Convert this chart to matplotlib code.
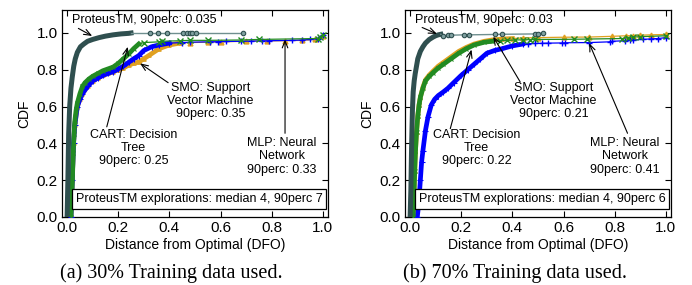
import matplotlib
matplotlib.use('Agg')
from matplotlib import pyplot as plt

plt.rcParams['font.family'] = ['Liberation Sans', 'DejaVu Sans']

# ---------------- (a) 30% training data ----------------
prot30_x = [0.0, 0.003, 0.006, 0.01, 0.015, 0.02, 0.026, 0.032, 0.04, 0.052, 0.065, 0.08, 0.1, 0.125, 0.15, 0.18, 0.21, 0.24, 0.25]
prot30_y = [0.0, 0.2, 0.45, 0.6, 0.7, 0.76, 0.82, 0.86, 0.895, 0.925, 0.94, 0.955, 0.965, 0.975, 0.983, 0.99, 0.995, 0.998, 1.0]
prot30_tx = [0.324, 0.355, 0.39, 0.453, 0.469, 0.48, 0.49, 0.504, 0.6875]
prot30_ty = [1.0, 1.0, 1.0, 1.0, 1.0, 1.0, 1.0, 1.0, 1.0]

cart30_x = [0.015, 0.018, 0.021, 0.024, 0.027, 0.03, 0.035, 0.04, 0.05, 0.06, 0.07, 0.085, 0.1, 0.12, 0.14, 0.16, 0.18, 0.2, 0.22, 0.24, 0.26, 0.28]
cart30_y = [0.0, 0.1, 0.22, 0.35, 0.45, 0.52, 0.58, 0.62, 0.67, 0.71, 0.73, 0.75, 0.765, 0.78, 0.795, 0.805, 0.815, 0.835, 0.86, 0.885, 0.915, 0.94]
cart30_tx = [0.3, 0.36, 0.37, 0.44, 0.48, 0.55, 0.68, 0.75, 0.98, 0.99, 1.0]
cart30_ty = [0.948, 0.952, 0.955, 0.958, 0.96, 0.96, 0.962, 0.965, 0.97, 0.98, 0.99]

mlp30_x = [0.015, 0.02, 0.025, 0.03, 0.04, 0.05, 0.06, 0.08, 0.1, 0.12, 0.14, 0.16, 0.18, 0.2, 0.22, 0.24, 0.26, 0.28, 0.3, 0.33, 0.36, 0.4]
mlp30_y = [0.0, 0.2, 0.4, 0.5, 0.6, 0.64, 0.67, 0.71, 0.74, 0.755, 0.77, 0.78, 0.79, 0.805, 0.82, 0.84, 0.86, 0.877, 0.905, 0.925, 0.935, 0.945]
mlp30_tx = [0.45, 0.48, 0.56, 0.59, 0.62, 0.68, 0.72, 0.76, 0.79, 0.88, 0.92, 0.95, 0.98, 1.0]
mlp30_ty = [0.948, 0.95, 0.952, 0.953, 0.954, 0.955, 0.956, 0.957, 0.958, 0.96, 0.962, 0.965, 0.97, 0.99]

smo30_x = [0.015, 0.02, 0.025, 0.03, 0.04, 0.05, 0.06, 0.08, 0.1, 0.12, 0.14, 0.16, 0.18, 0.2, 0.22, 0.24, 0.26, 0.28, 0.3, 0.32, 0.36, 0.4, 0.44]
smo30_y = [0.0, 0.2, 0.4, 0.5, 0.6, 0.64, 0.67, 0.71, 0.74, 0.755, 0.77, 0.78, 0.79, 0.8, 0.81, 0.825, 0.835, 0.842, 0.86, 0.878, 0.915, 0.935, 0.945]
smo30_tx = [0.48, 0.55, 0.6, 0.7, 0.78, 0.85, 0.92, 0.97, 1.0]
smo30_ty = [0.948, 0.95, 0.952, 0.955, 0.957, 0.958, 0.96, 0.965, 0.985]

# ---------------- (b) 70% training data ----------------
prot70_x = [0.0, 0.003, 0.006, 0.009, 0.012, 0.016, 0.02, 0.025, 0.03, 0.04, 0.05, 0.06, 0.075, 0.09, 0.1, 0.11, 0.12]
prot70_y = [0.0, 0.15, 0.4, 0.58, 0.68, 0.74, 0.78, 0.82, 0.86, 0.9, 0.925, 0.945, 0.965, 0.978, 0.985, 0.99, 0.993]
prot70_tx = [0.13, 0.15, 0.16, 0.21, 0.23, 0.33, 0.36, 0.49, 0.5, 0.52]
prot70_ty = [0.985, 0.987, 0.988, 0.99, 0.99, 0.992, 0.993, 0.995, 0.997, 1.0]

cart70_x = [0.012, 0.015, 0.018, 0.021, 0.025, 0.03, 0.035, 0.04, 0.05, 0.06, 0.075, 0.09, 0.11, 0.13, 0.16, 0.19, 0.22, 0.25, 0.29, 0.32]
cart70_y = [0.0, 0.12, 0.25, 0.36, 0.46, 0.55, 0.61, 0.65, 0.7, 0.74, 0.765, 0.785, 0.81, 0.83, 0.86, 0.89, 0.915, 0.935, 0.95, 0.955]
cart70_tx = [0.35, 0.38, 0.41, 0.44, 0.47, 0.49, 0.64, 0.69, 0.83, 0.85, 0.87, 0.9, 1.0]
cart70_ty = [0.958, 0.96, 0.962, 0.963, 0.964, 0.965, 0.966, 0.967, 0.97, 0.975, 0.978, 0.98, 0.985]

smo70_x = [0.012, 0.015, 0.018, 0.021, 0.025, 0.03, 0.035, 0.04, 0.05, 0.06, 0.075, 0.09, 0.11, 0.13, 0.16, 0.19, 0.22, 0.25, 0.29, 0.32, 0.36, 0.4]
smo70_y = [0.0, 0.12, 0.25, 0.36, 0.46, 0.55, 0.61, 0.65, 0.705, 0.745, 0.772, 0.793, 0.82, 0.84, 0.87, 0.9, 0.922, 0.94, 0.955, 0.962, 0.967, 0.97]
smo70_tx = [0.44, 0.5, 0.6, 0.7, 0.79, 0.845, 0.87, 0.9, 0.94, 1.0]
smo70_ty = [0.973, 0.975, 0.977, 0.978, 0.982, 0.985, 0.986, 0.988, 0.99, 0.992]

mlp70_x = [0.028, 0.032, 0.036, 0.04, 0.045, 0.05, 0.06, 0.07, 0.083, 0.096, 0.11, 0.13, 0.148, 0.17, 0.2, 0.225, 0.25, 0.275, 0.3, 0.33, 0.36, 0.4, 0.44]
mlp70_y = [0.0, 0.05, 0.12, 0.2, 0.3, 0.36, 0.47, 0.545, 0.61, 0.64, 0.66, 0.68, 0.7, 0.73, 0.77, 0.8, 0.83, 0.86, 0.89, 0.905, 0.915, 0.93, 0.94]
mlp70_tx = [0.46, 0.49, 0.515, 0.54, 0.595, 0.607, 0.7, 0.78, 0.79, 0.84, 0.86, 0.87, 0.91, 0.94, 0.97, 1.0]
mlp70_ty = [0.942, 0.943, 0.944, 0.945, 0.946, 0.947, 0.948, 0.952, 0.955, 0.958, 0.96, 0.962, 0.965, 0.968, 0.97, 0.975]

explor_a = "ProteusTM explorations: median 4, 90perc 7"
explor_b = "ProteusTM explorations: median 4, 90perc 6"
captions = ["(a) 30% Training data used.", "(b) 70% Training data used."]

C_PROT = '#2f4f4f'
C_CART = '#228b22'
C_SMO = '#e0a020'
C_MLP = '#0000ff'


def curve(ax, bx, by, tx, ty, color, marker, ms, z):
    # dense body of the CDF looks like a thick band of markers
    ax.plot(bx, by, color=color, lw=3.4, solid_joinstyle='round',
            marker=marker, ms=ms - 1, mew=0.8, zorder=z)
    ax.plot(bx[-1:] + tx, by[-1:] + ty, color=color, lw=0.9, marker=marker,
            ms=ms, mew=1.0, markevery=list(range(1, len(tx) + 1)), zorder=z)


def arrow(ax, tail, tip):
    ax.annotate('', xy=tip, xytext=tail,
                arrowprops=dict(arrowstyle='->,head_length=0.5,head_width=0.2',
                                lw=0.8, color='black', shrinkA=0, shrinkB=0),
                zorder=10)


def panel(ax, prot, cart, smo, mlp, labels, arrows, boxtext):
    curve(ax, *smo, C_SMO, '^', 3.5, 2)
    curve(ax, *mlp, C_MLP, '+', 5, 3)
    curve(ax, *cart, C_CART, 'x', 4, 4)
    ax.plot(prot[0], prot[1], color=C_PROT, lw=3.6, solid_joinstyle='round',
            zorder=5)
    ax.plot(prot[0][-1:] + prot[2], prot[1][-1:] + prot[3], color='#6f8f8f',
            lw=1.0, marker='o', ms=3.2, mfc='#7f9f9f', mec=C_PROT, mew=0.8,
            markevery=list(range(1, len(prot[2]) + 1)), zorder=5)

    for (txt, x, y) in labels:
        ax.text(x, y, txt, ha='center', va='center', fontsize=9,
                multialignment='center', linespacing=1.15, zorder=11)
    for tail, tip in arrows:
        arrow(ax, tail, tip)
    ax.text(0.516, 0.098, boxtext, ha='center', va='center', fontsize=9,
            bbox=dict(boxstyle='square,pad=0.3', fc='white', ec='black', lw=0.9),
            zorder=12)

    ax.set_xlim(-0.02, 1.02)
    ax.set_ylim(0, 1.125)
    ax.set_xticks([0, 0.2, 0.4, 0.6, 0.8, 1.0])
    ax.set_yticks([0, 0.2, 0.4, 0.6, 0.8, 1.0])
    ax.tick_params(direction='in', length=4, width=0.8, top=True, right=True,
                   labelsize=11, pad=3)
    for s in ax.spines.values():
        s.set_linewidth(0.9)
    ax.set_xlabel('Distance from Optimal (DFO)', fontsize=10, labelpad=2)
    ax.set_ylabel('CDF', fontsize=10, labelpad=4)


fig = plt.figure(figsize=(6.92, 2.85), dpi=100)
axA = fig.add_axes([62 / 692, 1 - 217 / 285, 266 / 692, 207 / 285])
axB = fig.add_axes([405 / 692, 1 - 217 / 285, 266 / 692, 207 / 285])

panel(axA,
      (prot30_x, prot30_y, prot30_tx, prot30_ty),
      (cart30_x, cart30_y, cart30_tx, cart30_ty),
      (smo30_x, smo30_y, smo30_tx, smo30_ty),
      (mlp30_x, mlp30_y, mlp30_tx, mlp30_ty),
      [('ProteusTM, 90perc: 0.035', 0.30, 1.07),
       ('CART: Decision\nTree\n90perc: 0.25', 0.26, 0.375),
       ('SMO: Support\nVector Machine\n90perc: 0.35', 0.56, 0.63),
       ('MLP: Neural\nNetwork\n90perc: 0.33', 0.84, 0.33)],
      [((0.044, 1.025), (0.098, 0.984)),
       ((0.155, 0.49), (0.237, 0.925)),
       ((0.395, 0.73), (0.285, 0.835)),
       ((0.852, 0.455), (0.852, 0.965))],
      explor_a)

panel(axB,
      (prot70_x, prot70_y, prot70_tx, prot70_ty),
      (cart70_x, cart70_y, cart70_tx, cart70_ty),
      (smo70_x, smo70_y, smo70_tx, smo70_ty),
      (mlp70_x, mlp70_y, mlp70_tx, mlp70_ty),
      [('ProteusTM, 90perc: 0.03', 0.29, 1.07),
       ('CART: Decision\nTree\n90perc: 0.22', 0.26, 0.375),
       ('SMO: Support\nVector Machine\n90perc: 0.21', 0.56, 0.63),
       ('MLP: Neural\nNetwork\n90perc: 0.41', 0.84, 0.33)],
      [((0.047, 1.03), (0.105, 0.995)),
       ((0.157, 0.48), (0.24, 0.91)),
       ((0.43, 0.735), (0.325, 0.98)),
       ((0.85, 0.455), (0.70, 0.945))],
      explor_b)

fig.text(0.248, 0.042, captions[0], family='Liberation Serif', fontsize=14.5,
         ha='center', va='center')
fig.text(0.744, 0.042, captions[1], family='Liberation Serif', fontsize=14.5,
         ha='center', va='center')

fig.savefig('out.png', dpi=100)
